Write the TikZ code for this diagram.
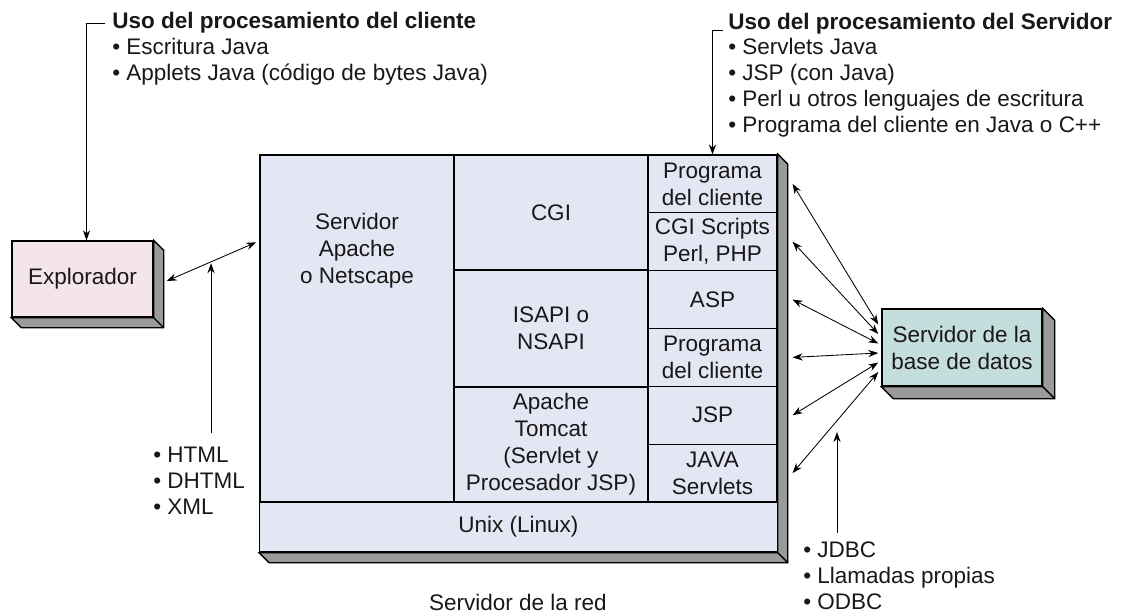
\documentclass[tikz,border=0pt]{standalone}
\usepackage{fontspec}
\setmainfont{Liberation Sans}
\usepackage{xcolor}
\usetikzlibrary{arrows.meta,positioning}

\definecolor{srvfill}{HTML}{E3E7F3}
\definecolor{brwfill}{HTML}{F4E4EC}
\definecolor{dbfill}{HTML}{C4DDDD}
\definecolor{shadegray}{HTML}{9A9A9A}
\definecolor{inktext}{HTML}{1A1718}

\begin{document}
\begin{tikzpicture}[
  x=0.025cm, y=-0.025cm,
  font=\fontsize{16}{19.2}\selectfont,
  text=inktext,
  box/.style={draw, line width=1pt, align=center, inner sep=0pt},
  cell/.style={draw, line width=0.8pt, fill=srvfill, align=center, inner sep=0pt},
  lbl/.style={align=center, inner sep=0pt},
  lst/.style={align=left, anchor=west, inner sep=0pt, font=\fontsize{16}{18.4}\selectfont},
  arr/.style={-{Stealth[length=2.5mm, width=1.8mm]}, line width=0.6pt},
  dbl/.style={{Stealth[length=2.5mm, width=1.8mm]}-{Stealth[length=2.5mm, width=1.8mm]}, line width=0.6pt}
]
\useasboundingbox (0,0) rectangle (1121,614);

% blocks
\node[box, fill=brwfill, minimum width=3.525cm, minimum height=1.9cm] (browser) at (82.5,279) {Explorador};
\node[box, fill=srvfill, minimum width=12.925cm, minimum height=9.925cm] (server) at (518.5,353.5) {};
\node[box, fill=dbfill, minimum width=4cm, minimum height=1.925cm] (db) at (962,347.5) {Servidor de la\\base de datos};

% raised edges
\foreach \blk/\dep in {browser/10, server/10, db/12} {
  \draw[line width=1pt, fill=shadegray] (\blk.north east) -- ++(\dep,\dep)
    -- ([shift={(\dep,\dep)}]\blk.south east) -- ([shift={(\dep,\dep)}]\blk.south west)
    -- (\blk.south west) -- (\blk.south east) -- cycle;
  \draw[line width=1pt] (\blk.south east) -- ++(\dep,\dep);
}

% web server layers
\node[cell, minimum width=4.85cm, minimum height=8.675cm] (apache) at (357,328.5) {};
\node[lbl] (apachetxt) at (357,251) {Servidor\\Apache\\o Netscape};
\node[cell, minimum width=4.85cm, minimum height=2.875cm] (cgi) at (551,212.5) {CGI};
\node[cell, minimum width=4.85cm, minimum height=2.925cm] (isapi) at (551,328.5) {ISAPI o\\NSAPI};
\node[cell, minimum width=4.85cm, minimum height=2.875cm] (tomcat) at (551,444.5) {Apache\\Tomcat\\(Servlet y\\Procesador JSP)};
\node[cell, minimum width=12.925cm, minimum height=1.25cm] (unix) at (518.5,527) {Unix (Linux)};
\foreach \txt [count=\i] in {{Programa\\del cliente}, {CGI Scripts\\Perl, PHP}, ASP,
    {Programa\\del cliente}, JSP, {JAVA\\Servlets}}
  \node[cell, minimum width=3.225cm, minimum height=1.4458cm] (r\i) at (712.5,{155+57.83*(\i-0.5)}) {\txt};
\draw[line width=1pt] (server.north west) rectangle (server.south east);

% notes
\node[lst] (cliuse) at (112,49) {\textbf{Uso del procesamiento del cliente}\\\textbullet\ Escritura Java\\\textbullet\ Applets Java (código de bytes Java)};
\node[lst] (srvuse) at (728,75) {\textbf{Uso del procesamiento del Servidor}\\\textbullet\ Servlets Java\\\textbullet\ JSP (con Java)\\\textbullet\ Perl u otros lenguajes de escritura\\\textbullet\ Programa del cliente en Java o C++};
\node[lst] (markup) at (153,481) {\textbullet\ HTML\\\textbullet\ DHTML\\\textbullet\ XML};
\node[lst] (dbapi) at (803,576) {\textbullet\ JDBC\\\textbullet\ Llamadas propias\\\textbullet\ ODBC};
\node[lbl] (srvcaption) at (518,602) {Servidor de la red};

% connectors
\coordinate (clitick) at (105,23);
\coordinate (srvtick) at (723,30);
\coordinate (jdbctip) at (837,432);
\draw[arr] (clitick) -| ([shift={(4,0)}]browser.north);
\draw[arr] (srvtick) -| (r1.north);
\draw[dbl] ([shift={(13,2)}]browser.east) -- coordinate[pos=0.495] (webmid) ([shift={(-3,88)}]server.north west);
\draw[arr, shorten <=3.5mm, shorten >=1pt] (webmid |- markup.north) -- (webmid);
\foreach \i in {1,...,6}
  \draw[dbl] ([shift={(-3,{-23+9.5*(\i-1)})}]db.west) -- ([shift={(15,0)}]r\i.east);
\draw[arr, shorten <=2.2mm] (jdbctip |- dbapi.north) -- (jdbctip);
\end{tikzpicture}
\end{document}
